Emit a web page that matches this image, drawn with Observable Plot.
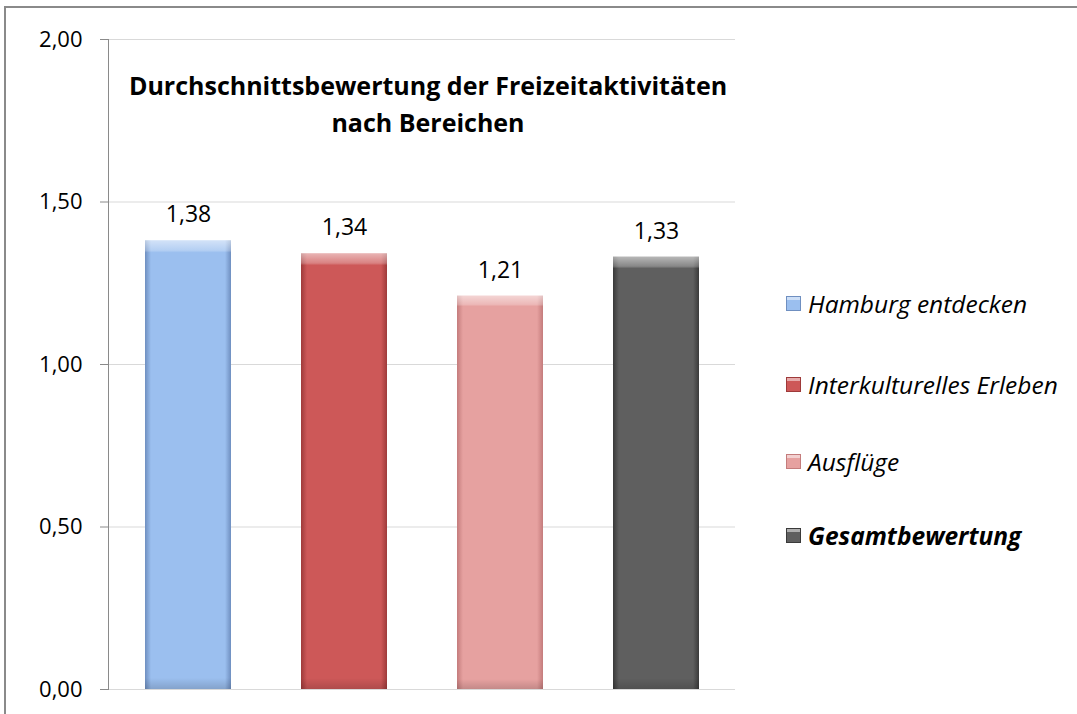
<!DOCTYPE html>
<html>
<head>
<meta charset="utf-8">
<script src="https://cdn.jsdelivr.net/npm/d3@7"></script>
<script src="https://cdn.jsdelivr.net/npm/@observablehq/plot@0.6"></script>
<style>
  html, body { margin: 0; padding: 0; background: #fff; }
  #wrap { position: relative; width: 1077px; height: 714px; overflow: hidden; font-family: "Open Sans", sans-serif; }
  #frame { position: absolute; left: 4px; top: 6px; width: 1200px; height: 800px; border-top: 2px solid #8a8a8a; border-left: 2px solid #8a8a8a; box-sizing: border-box; pointer-events: none; }
  #chart { position: absolute; left: 0; top: 0; }
  #title { position: absolute; left: 78px; width: 700px; top: 67px; text-align: center; font-weight: bold; font-size: 25px; line-height: 37px; color: #000; }
  #legend { position: absolute; left: 786px; top: 0; }
  .item { position: absolute; left: 0; white-space: nowrap; display: flex; align-items: center; font-style: italic; font-size: 24.5px; color: #000; }
  .sw { width: 15px; height: 15px; margin-right: 7px; box-sizing: border-box; flex: none; }
</style>
</head>
<body>
<div id="wrap">
  <div id="chart"></div>
  <div id="frame"></div>
  <div id="title"></div>
  <div id="legend"></div>
</div>
<script>
// Data
const categories = ["Hamburg entdecken", "Interkulturelles Erleben", "Ausflüge", "Gesamtbewertung"];
const values = [1.38, 1.34, 1.21, 1.33];
const colors = ["#9bbfef", "#cd5858", "#e6a1a0", "#5f5f5f"];
const edgeColors = ["#6f8fc0", "#9e3a3a", "#c47c7c", "#3a3a3a"];
const yTicks = [0, 0.5, 1, 1.5, 2];
const titleLines = ["Durchschnittsbewertung der Freizeitaktivitäten", "nach Bereichen"];
const boldLegend = [false, false, false, true];

const data = categories.map((name, i) => ({name, value: values[i]}));
const fmt = v => v.toFixed(2).replace(".", ",");
const gradIds = categories.map((_, i) => `g${i}`);

const svg = Plot.plot({
  width: 1077,
  height: 714,
  marginTop: 39,
  marginBottom: 25,
  marginLeft: 108,
  marginRight: 342,
  style: {fontFamily: "'Open Sans', sans-serif", fontSize: "22px", color: "#000", background: "transparent"},
  x: {domain: categories, paddingInner: 0.45, paddingOuter: 0.225, axis: null},
  y: {domain: [0, 2], ticks: yTicks},
  color: {type: "ordinal", domain: categories, range: gradIds.map(id => `url(#${id})`)},
  marks: [
    Plot.gridY(yTicks, {stroke: "#d9d9d9", strokeOpacity: 1}),
    Plot.axisY(yTicks, {tickFormat: fmt, tickSize: 8, tickPadding: 18, stroke: "#8a8a8a", fontSize: 22, fill: "#000", label: null}),
    Plot.frame({anchor: "left", stroke: "#8a8a8a"}),
    Plot.barY(data, {x: "name", y: "value", fill: "name", style: {filter: "drop-shadow(1px 3px 2px rgba(0,0,0,0.35))"}}),
    Plot.barY(data, {x: "name", y: "value", fill: "url(#topHi)"}),
    Plot.text(data, {x: "name", y: "value", text: d => fmt(d.value), dy: -26, fontSize: 23, fill: "#000"})
  ]
});

const defs = categories.map((_, i) => `
  <linearGradient id="${gradIds[i]}" x1="0" x2="1" y1="0" y2="0">
    <stop offset="0" stop-color="${edgeColors[i]}"/>
    <stop offset="0.07" stop-color="${colors[i]}"/>
    <stop offset="0.93" stop-color="${colors[i]}"/>
    <stop offset="1" stop-color="${edgeColors[i]}"/>
  </linearGradient>`).join("") + `
  <linearGradient id="topHi" x1="0" x2="0" y1="0" y2="1">
    <stop offset="0" stop-color="#ffffff" stop-opacity="0.55"/>
    <stop offset="0.022" stop-color="#ffffff" stop-opacity="0.25"/>
    <stop offset="0.027" stop-color="#ffffff" stop-opacity="0"/>
    <stop offset="0.975" stop-color="#000000" stop-opacity="0"/>
    <stop offset="1" stop-color="#000000" stop-opacity="0.15"/>
  </linearGradient>`;
svg.insertAdjacentHTML("afterbegin", `<defs>${defs}</defs>`);
document.getElementById("chart").appendChild(svg);

document.getElementById("title").innerHTML = titleLines.map(t => `<div>${t}</div>`).join("");

const legendTops = [305, 386, 463, 537];
const legend = document.getElementById("legend");
categories.forEach((c, i) => {
  const it = document.createElement("div");
  it.className = "item";
  it.style.top = (legendTops[i] - 18) + "px";
  if (boldLegend[i]) it.style.fontWeight = "bold";
  it.innerHTML = `<div class="sw" style="background: linear-gradient(180deg, rgba(255,255,255,0.5) 0 25%, rgba(0,0,0,0) 25%), ${colors[i]}; border: 1px solid ${edgeColors[i]};"></div><span>${c}</span>`;
  legend.appendChild(it);
});
</script>
</body>
</html>
